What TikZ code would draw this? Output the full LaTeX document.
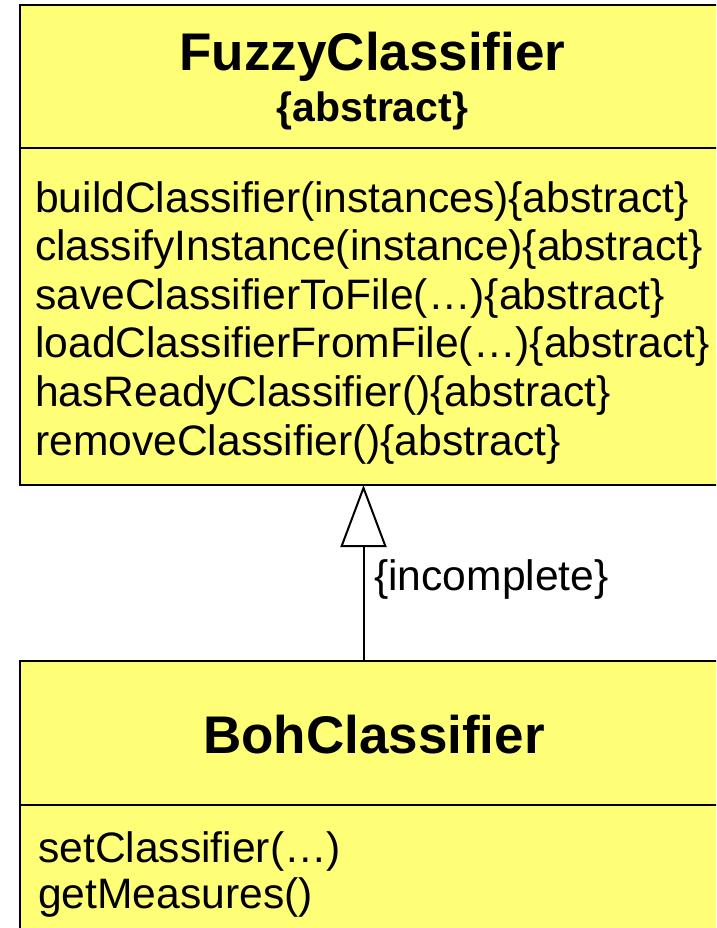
\documentclass[tikz,border=0pt]{standalone}
\usepackage{fontspec}
\setmainfont{Liberation Sans}
\usetikzlibrary{arrows.meta}
\definecolor{umlyellow}{RGB}{255,255,119}
\tikzset{
  classbox/.style={draw=black, fill=umlyellow, line width=2pt, rectangle, inner sep=0pt, outer sep=0pt, anchor=north west},
  divider/.style={draw=black, line width=2pt},
  titletext/.style={inner sep=0pt, anchor=base, font=\bfseries\fontsize{53}{60}\selectfont},
  stereotext/.style={inner sep=0pt, anchor=base, font=\bfseries\fontsize{41}{46}\selectfont},
  methtext/.style={inner sep=0pt, anchor=base west, font=\fontsize{42.6}{48}\selectfont},
  inherit/.style={draw=black, line width=2pt, -{Triangle[open, length=62pt, width=46pt, fill=white]}}
}
\begin{document}
\begin{tikzpicture}[x=1pt, y=-1pt]
\useasboundingbox (0,0) rectangle (716,928);
\clip (0,0) rectangle (716,928);
% FuzzyClassifier
\node[classbox, minimum width=700pt, minimum height=480pt] (fuzzy) at (20,5) {};
\coordinate (fdiv) at (20,148);
\draw[divider] (fdiv) -- (fdiv -| fuzzy.east);
\node[titletext] (fname) at (372.5,71) {FuzzyClassifier};
\node[stereotext] (fabs) at (372.5,122) {\{abstract\}};
\node[methtext] (m1) at (35,212) {buildClassifier(instances)\{abstract\}};
\node[methtext] (m2) at (35,260.5) {classifyInstance(instance)\{abstract\}};
\node[methtext] (m3) at (35,309) {saveClassifierToFile(…)\{abstract\}};
\node[methtext] (m4) at (35,357.5) {loadClassifierFromFile(…)\{abstract\}};
\node[methtext] (m5) at (35,406) {hasReadyClassifier()\{abstract\}};
\node[methtext] (m6) at (35,455) {removeClassifier()\{abstract\}};
% BohClassifier
\node[classbox, minimum width=700pt, minimum height=300pt] (boh) at (20,661) {};
\coordinate (bdiv) at (20,805);
\draw[divider] (bdiv) -- (bdiv -| boh.east);
\node[titletext] (bname) at (374,753) {BohClassifier};
\node[methtext] (b1) at (38,862) {setClassifier(…)};
\node[methtext] (b2) at (38,908) {getMeasures()};
% generalization
\coordinate (gx) at (363.5,0);
\draw[inherit] (boh.north -| gx) -- (fuzzy.south -| gx);
\node[methtext] (inc) at (374,590) {\{incomplete\}};
\end{tikzpicture}
\end{document}
